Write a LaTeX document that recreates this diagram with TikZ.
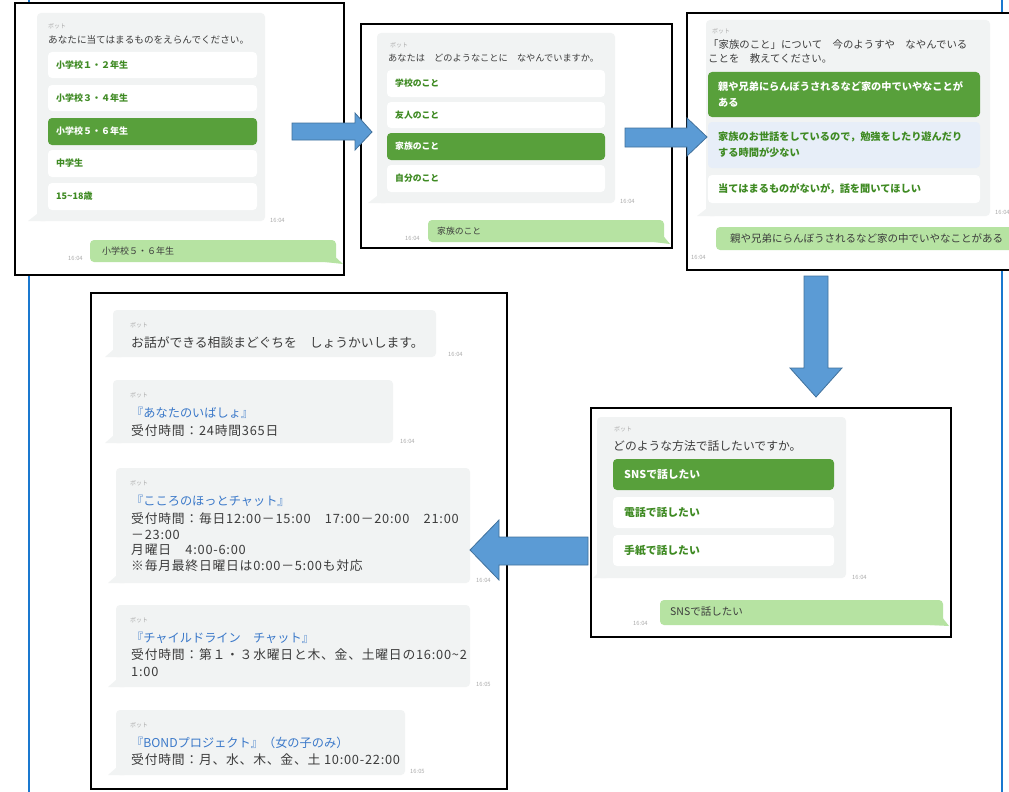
\documentclass[tikz,border=0pt]{standalone}
\usepackage{fontspec}
\setmainfont{Noto Sans CJK JP}
\definecolor{bubblegrey}{HTML}{F1F3F3}
\definecolor{selgreen}{HTML}{58A03B}
\definecolor{optgreen}{HTML}{3E8A22}
\definecolor{usergreen}{HTML}{B6E3A2}
\definecolor{lightblueopt}{HTML}{E7EEF8}
\definecolor{linkblue}{HTML}{3A78C9}
\definecolor{arrowfill}{HTML}{5B9BD5}
\definecolor{arrowedge}{HTML}{41719C}
\definecolor{vline}{HTML}{1A78CF}
\definecolor{txtgrey}{HTML}{3C3C3C}
\definecolor{timegrey}{HTML}{ABABAB}
\tikzset{
  panelbox/.style={draw=black, line width=1.6pt, fill=white},
  bubble/.style={fill=bubblegrey, rounded corners=4pt},
  optbox/.style={fill=white, rounded corners=4pt},
  selbox/.style={fill=selgreen, rounded corners=4pt},
  bluebox/.style={fill=lightblueopt, rounded corners=4pt},
  userbubble/.style={fill=usergreen, rounded corners=4pt},
  blockarrow/.style={fill=arrowfill, draw=arrowedge, line width=0.8pt, line join=miter},
  tx/.style={anchor=west, inner sep=0pt, text=txtgrey},
  bodytx/.style={anchor=west, inner sep=0pt, text=txtgrey, font=\fontsize{12.8}{14}\selectfont\addfontfeatures{LetterSpace=6}},
  botlbl/.style={anchor=west, inner sep=0pt, text=timegrey, font=\fontsize{6}{7}\selectfont},
  timelbl/.style={anchor=west, inner sep=0pt, text=timegrey, font=\fontsize{5.8}{6}\selectfont},
  opttx/.style={anchor=west, inner sep=0pt, text=optgreen, font=\bfseries},
  seltx/.style={anchor=west, inner sep=0pt, text=white, font=\bfseries},
  linktx/.style={anchor=west, inner sep=0pt, text=linkblue, font=\fontsize{12.2}{14}\selectfont},
}
\begin{document}
\begin{tikzpicture}[x=1pt,y=-1pt]
\useasboundingbox (0,0) rectangle (1009,792);
\clip (0,0) rectangle (1009,792);
% vertical blue lines
\draw[vline, line width=2.6pt] (29,0) -- (29,792);
\draw[vline, line width=2.6pt] (1002,0) -- (1002,792);

% ================= Panel 1 =================
\draw[panelbox] (15,3) rectangle (344,275);
\fill[bubblegrey] (28,221) -- (37,214) -- (45,221) -- cycle;
\fill[bubble] (37,13) rectangle (265,221);
\node[botlbl] (p1bot) at (48,26) {ボット};
\node[tx, font=\fontsize{9.6}{11}\selectfont] (p1q) at (48,40) {あなたに当てはまるものをえらんでください。};
\fill[optbox] (48,52) rectangle (257,78);
\fill[optbox] (48,85) rectangle (257,111);
\fill[selbox] (48,118) rectangle (257,145);
\fill[optbox] (48,150) rectangle (257,177);
\fill[optbox] (48,183) rectangle (257,210);
\node[opttx, font=\bfseries\fontsize{9}{10}\selectfont] (p1o1) at (56,65) {小学校１・２年生};
\node[opttx, font=\bfseries\fontsize{9}{10}\selectfont] (p1o2) at (56,98) {小学校３・４年生};
\node[seltx, font=\bfseries\fontsize{9}{10}\selectfont] (p1o3) at (56,131.5) {小学校５・６年生};
\node[opttx, font=\bfseries\fontsize{9}{10}\selectfont] (p1o4) at (56,163.5) {中学生};
\node[opttx, font=\bfseries\fontsize{9}{10}\selectfont] (p1o5) at (56,196.5) {15\textasciitilde18歳};
\node[timelbl] (p1t1) at (270,220) {16:04};
\fill[usergreen] (331,253) -- (343,264) -- (325,262) -- cycle;
\fill[userbubble] (90,240) rectangle (336,262);
\node[tx, font=\fontsize{9}{10}\selectfont] (p1u) at (102,251) {小学校５・６年生};
\node[timelbl] (p1t2) at (68,258) {16:04};

% ================= Panel 2 =================
\draw[panelbox] (361,24) rectangle (672,248);
\fill[bubblegrey] (368,203) -- (377,196) -- (385,203) -- cycle;
\fill[bubble] (377,33) rectangle (615,203);
\node[botlbl] (p2bot) at (390,45) {ボット};
\node[tx, font=\fontsize{9.2}{11}\selectfont] (p2q) at (388,58) {あなたは　どのようなことに　なやんでいますか。};
\fill[optbox] (387,70) rectangle (605,97);
\fill[optbox] (387,102) rectangle (605,128);
\fill[selbox] (387,133) rectangle (605,160);
\fill[optbox] (387,165) rectangle (605,192);
\node[opttx, font=\bfseries\fontsize{8.8}{10}\selectfont] (p2o1) at (395,83.5) {学校のこと};
\node[opttx, font=\bfseries\fontsize{8.8}{10}\selectfont] (p2o2) at (395,115) {友人のこと};
\node[seltx, font=\bfseries\fontsize{8.8}{10}\selectfont] (p2o3) at (395,146.5) {家族のこと};
\node[opttx, font=\bfseries\fontsize{8.8}{10}\selectfont] (p2o4) at (395,178.5) {自分のこと};
\node[timelbl] (p2t1) at (620,201) {16:04};
\fill[usergreen] (660,232) -- (670,244) -- (654,242) -- cycle;
\fill[userbubble] (428,220) rectangle (664,242);
\node[tx, font=\fontsize{8.8}{10}\selectfont] (p2u) at (437,231) {家族のこと};
\node[timelbl] (p2t2) at (405,238) {16:04};

% ================= Panel 3 =================
\draw[panelbox] (687,13) rectangle (1020,270);
\fill[bubblegrey] (697,216) -- (706,209) -- (714,216) -- cycle;
\fill[bubble] (706,20) rectangle (990,216);
\node[botlbl] (p3bot) at (712,31) {ボット};
\node[tx, font=\fontsize{10.4}{12}\selectfont] (p3q1) at (708,45) {「家族のこと」について　今のようすや　なやんでいる};
\node[tx, font=\fontsize{10.4}{12}\selectfont] (p3q2) at (708,59) {ことを　教えてください。};
\fill[selbox] (708,72) rectangle (980,117);
\fill[bluebox] (708,122) rectangle (980,168);
\fill[optbox] (708,175) rectangle (980,203);
\node[seltx, font=\bfseries\fontsize{10.2}{12}\selectfont] (p3o1a) at (718,87) {親や兄弟にらんぼうされるなど家の中でいやなことが};
\node[seltx, font=\bfseries\fontsize{10.2}{12}\selectfont] (p3o1b) at (718,103) {ある};
\node[opttx, font=\bfseries\fontsize{10.2}{12}\selectfont] (p3o2a) at (718,137) {家族のお世話をしているので，勉強をしたり遊んだり};
\node[opttx, font=\bfseries\fontsize{10.2}{12}\selectfont] (p3o2b) at (718,153) {する時間が少ない};
\node[opttx, font=\bfseries\fontsize{10.2}{12}\selectfont] (p3o3) at (718,189) {当てはまるものがないが，話を聞いてほしい};
\node[timelbl] (p3t1) at (995,212) {16:04};
\fill[userbubble] (716,227) rectangle (1030,250);
\node[tx, font=\fontsize{10.5}{12}\selectfont] (p3u) at (730,238) {親や兄弟にらんぼうされるなど家の中でいやなことがある};
\node[timelbl] (p3t2) at (691,257) {16:04};

% ================= Panel 4 =================
\draw[panelbox] (591,408) rectangle (951,637);
\fill[bubblegrey] (593,578) -- (599,572) -- (606,578) -- cycle;
\fill[bubble] (597,417) rectangle (846,578);
\node[botlbl] (p4bot) at (614,429) {ボット};
\node[tx, font=\fontsize{11.8}{13}\selectfont] (p4q) at (613,446) {どのような方法で話したいですか。};
\fill[selbox] (613,459) rectangle (834,490);
\fill[optbox] (613,497) rectangle (834,528);
\fill[optbox] (613,535) rectangle (834,566);
\node[seltx, font=\bfseries\fontsize{10.8}{12}\selectfont] (p4o1) at (624,474.5) {SNSで話したい};
\node[opttx, font=\bfseries\fontsize{10.8}{12}\selectfont] (p4o2) at (624,512.5) {電話で話したい};
\node[opttx, font=\bfseries\fontsize{10.8}{12}\selectfont] (p4o3) at (624,550.5) {手紙で話したい};
\node[timelbl] (p4t1) at (852,577) {16:04};
\fill[usergreen] (938,612) -- (949,626) -- (930,625) -- cycle;
\fill[userbubble] (660,600) rectangle (943,625);
\node[tx, font=\fontsize{10.5}{12}\selectfont] (p4u) at (670,612) {SNSで話したい};
\node[timelbl] (p4t2) at (633,623) {16:04};

% ================= Panel 5 =================
\draw[panelbox] (91,293) rectangle (507,789);
% bubble 1
\fill[bubblegrey] (105,357) -- (113,350) -- (121,357) -- cycle;
\fill[bubble] (113,310) rectangle (436,357);
\node[botlbl] (b1bot) at (130,325) {ボット};
\node[tx, font=\fontsize{12.8}{14}\selectfont] (b1a) at (131,343) {お話ができる相談まどぐちを　しょうかいします。};
\node[timelbl] (b1t) at (448,354) {16:04};
% bubble 2
\fill[bubblegrey] (105,443) -- (113,436) -- (121,443) -- cycle;
\fill[bubble] (113,380) rectangle (393,443);
\node[botlbl] (b2bot) at (130,395) {ボット};
\node[linktx] (b2a) at (131,413) {『あなたのいばしょ』};
\node[bodytx] (b2b) at (131,431) {受付時間：24時間365日};
\node[timelbl] (b2t) at (400,441) {16:04};
% bubble 3
\fill[bubblegrey] (108,583) -- (116,576) -- (124,583) -- cycle;
\fill[bubble] (116,468) rectangle (470,583);
\node[botlbl] (b3bot) at (130,483) {ボット};
\node[linktx] (b3a) at (131,501) {『こころのほっとチャット』};
\node[bodytx] (b3b) at (131,519) {受付時間：毎日12:00－15:00　17:00－20:00　21:00};
\node[bodytx] (b3c) at (131,535) {－23:00};
\node[bodytx] (b3d) at (131,550) {月曜日　4:00-6:00};
\node[bodytx] (b3e) at (131,566) {※毎月最終日曜日は0:00－5:00も対応};
\node[timelbl] (b3t) at (476,580) {16:04};
% bubble 4
\fill[bubblegrey] (108,687) -- (116,680) -- (124,687) -- cycle;
\fill[bubble] (116,605) rectangle (470,687);
\node[botlbl] (b4bot) at (130,620) {ボット};
\node[linktx] (b4a) at (131,638) {『チャイルドライン　チャット』};
\node[bodytx] (b4b) at (131,655) {受付時間：第１・３水曜日と木、金、土曜日の16:00\textasciitilde2};
\node[bodytx] (b4c) at (131,672) {1:00};
\node[timelbl] (b4t) at (476,684) {16:05};
% bubble 5
\fill[bubblegrey] (108,775) -- (116,768) -- (124,775) -- cycle;
\fill[bubble] (116,710) rectangle (405,775);
\node[botlbl] (b5bot) at (130,725) {ボット};
\node[linktx] (b5a) at (131,743) {『BONDプロジェクト』（女の子のみ）};
\node[bodytx] (b5b) at (131,760) {受付時間：月、水、木、金、土 10:00-22:00};
\node[timelbl] (b5t) at (410,771) {16:05};

% ================= Block arrows =================
\draw[blockarrow] (292,123) -- (355,123) -- (355,113) -- (372,132) -- (355,150) -- (355,140) -- (292,140) -- cycle;
\draw[blockarrow] (625,128) -- (687,128) -- (687,118) -- (707,137) -- (687,156) -- (687,147) -- (625,147) -- cycle;
\draw[blockarrow] (804,276) -- (828,276) -- (828,368) -- (842,368) -- (816,397) -- (790,368) -- (804,368) -- cycle;
\draw[blockarrow] (588,537) -- (499,537) -- (499,520) -- (470,550) -- (499,580) -- (499,565) -- (588,565) -- cycle;
\end{tikzpicture}
\end{document}
